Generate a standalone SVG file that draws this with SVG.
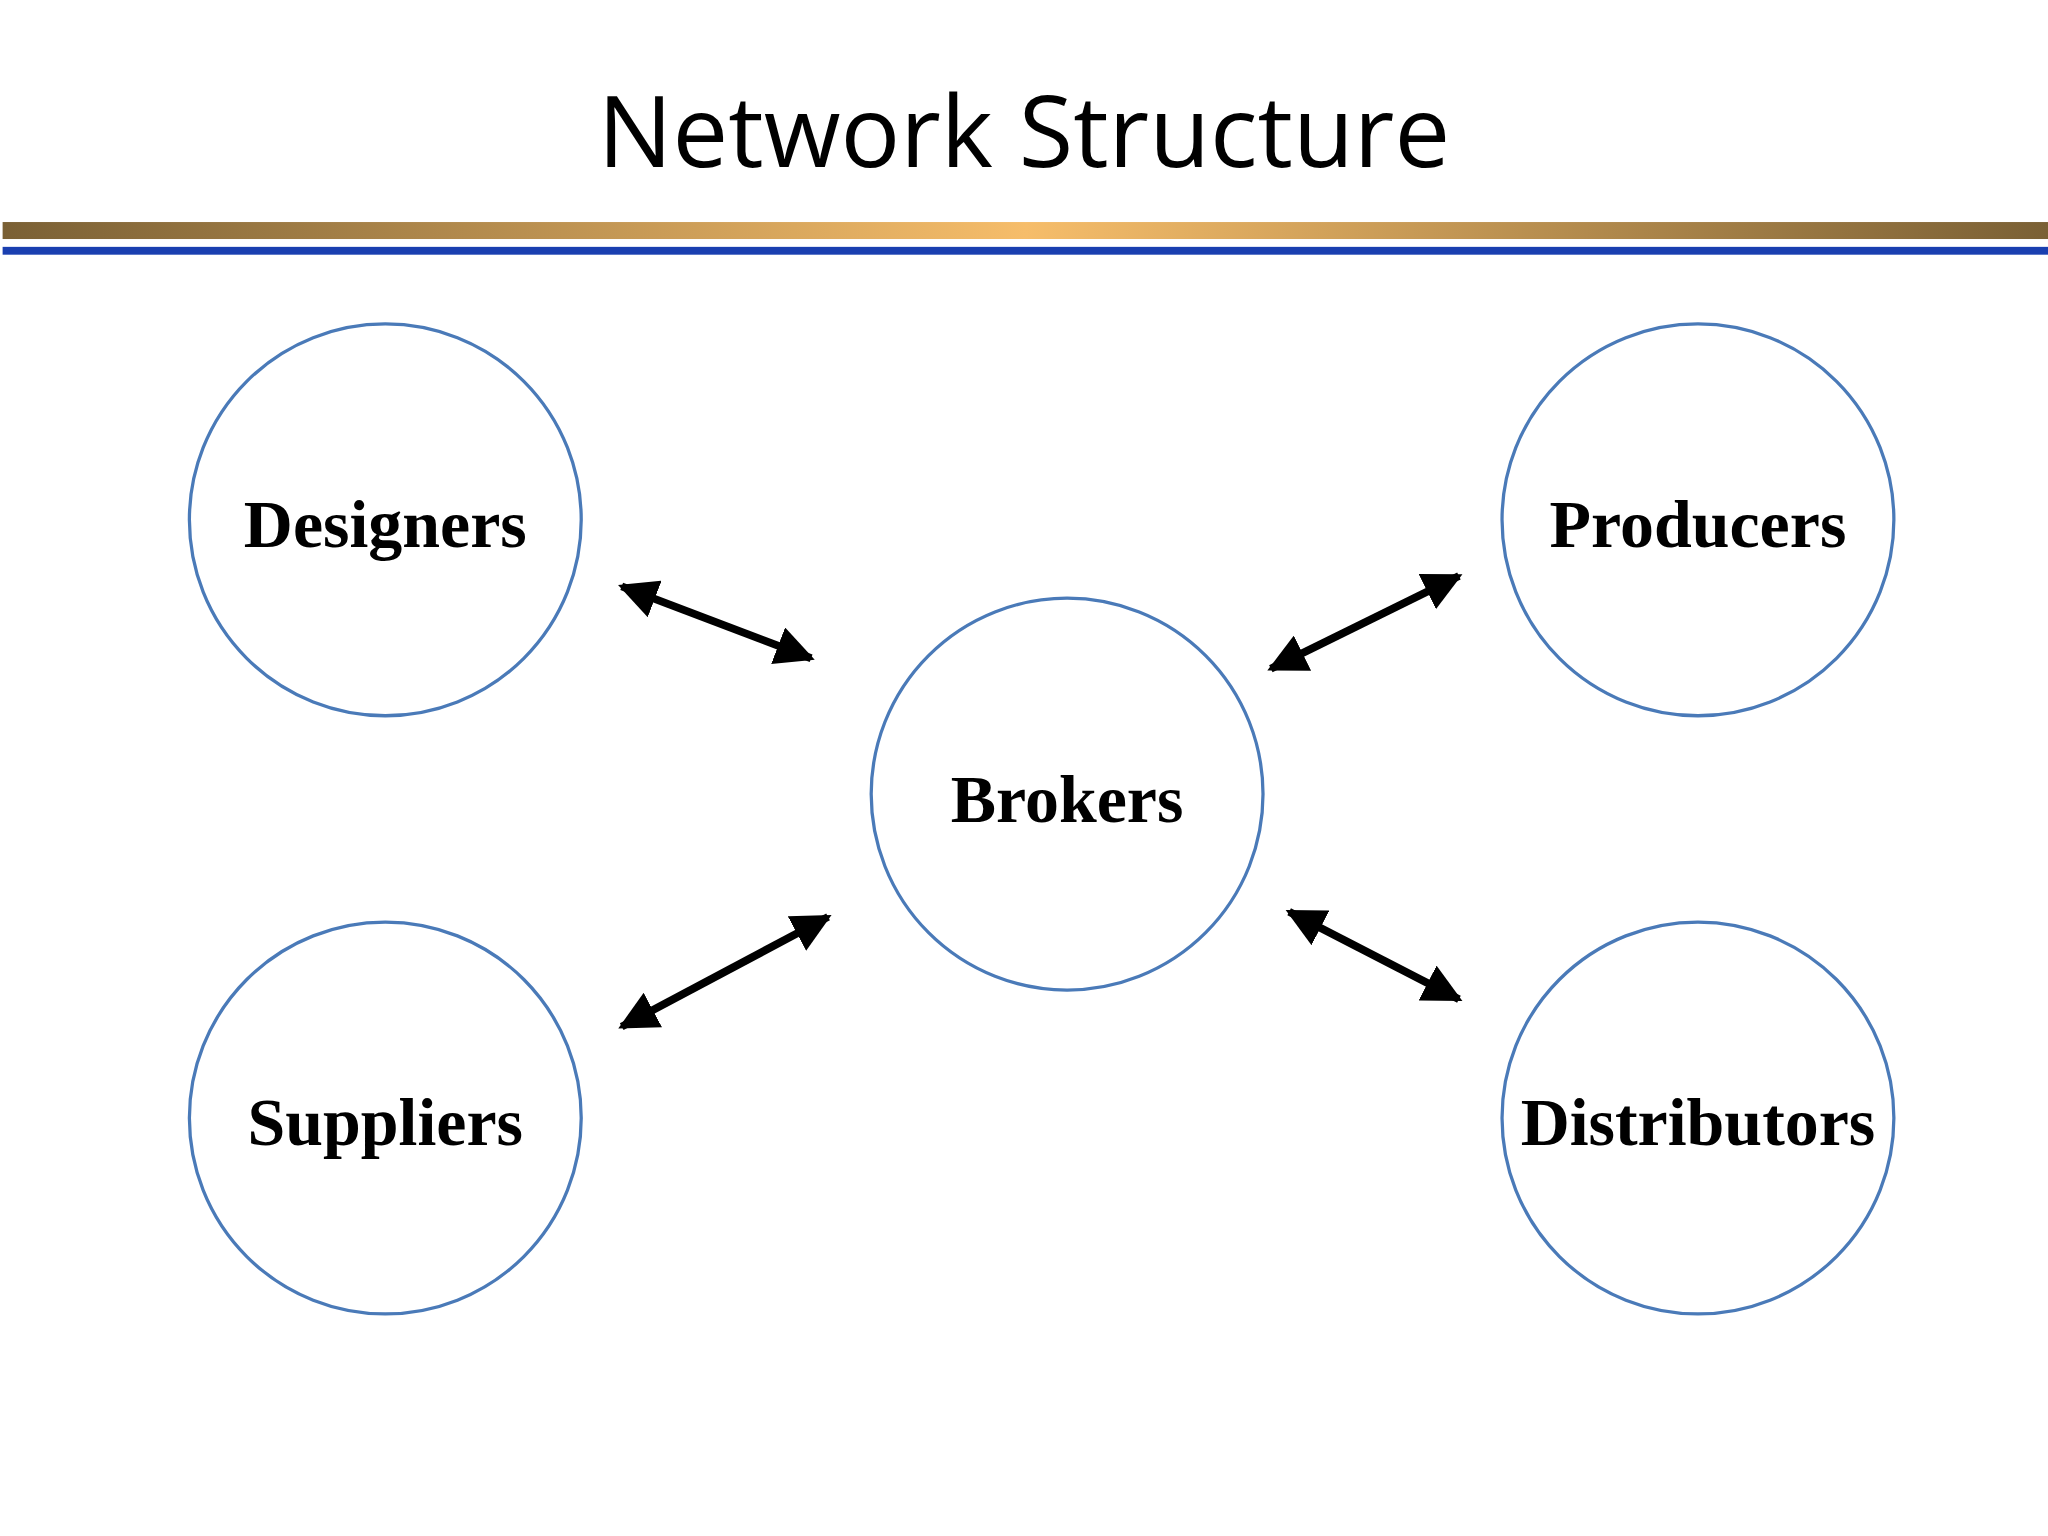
<svg xmlns="http://www.w3.org/2000/svg" width="2048" height="1536" viewBox="0 0 2048 1536">
<defs>
<linearGradient id="gold" x1="0" x2="1" y1="0" y2="0">
<stop offset="0" stop-color="#7a6035"/><stop offset="0.5" stop-color="#f6bd6a"/><stop offset="1" stop-color="#7a6035"/>
</linearGradient>
<marker id="ah" viewBox="0 0 10 10" refX="9" refY="5" markerWidth="5" markerHeight="5" markerUnits="strokeWidth" orient="auto-start-reverse">
<path d="M0,0 L10,5 L0,10 Z" fill="#000"/>
</marker>
<style>
.node circle{fill:#fff;stroke:#4a7ab8;stroke-width:2.5}
.node text{font-family:"Liberation Serif",serif;font-weight:bold;font-size:52px;text-anchor:middle;fill:#000}
.conn line{stroke:#000;stroke-width:6;marker-start:url(#ah);marker-end:url(#ah)}
</style>
</defs>
<rect width="2048" height="1536" fill="#fff"/>
<g transform="scale(1.30612)">
<text x="784" y="128" font-family="'Open Sans','Liberation Sans',sans-serif" font-size="76" text-anchor="middle" fill="#000">Network Structure</text>
<rect x="2" y="170" width="1566" height="13" fill="url(#gold)"/>
<rect x="2" y="189" width="1566" height="6" fill="#1a3fb0"/>
<g id="designers" class="node"><circle cx="295" cy="398" r="150"/><text x="295" y="419">Designers</text></g>
<g id="producers" class="node"><circle cx="1300" cy="398" r="150"/><text x="1300" y="419">Producers</text></g>
<g id="brokers" class="node"><circle cx="817" cy="608" r="150"/><text x="817" y="629">Brokers</text></g>
<g id="suppliers" class="node"><circle cx="295" cy="856" r="150"/><text x="295" y="877">Suppliers</text></g>
<g id="distributors" class="node"><circle cx="1300" cy="856" r="150"/><text x="1300" y="877">Distributors</text></g>
<g id="connectors" class="conn">
<line x1="476" y1="449" x2="621" y2="504"/>
<line x1="973" y1="512" x2="1117" y2="441"/>
<line x1="476" y1="786" x2="634" y2="702"/>
<line x1="987" y1="698" x2="1117" y2="765"/>
</g>
</g>
</svg>
